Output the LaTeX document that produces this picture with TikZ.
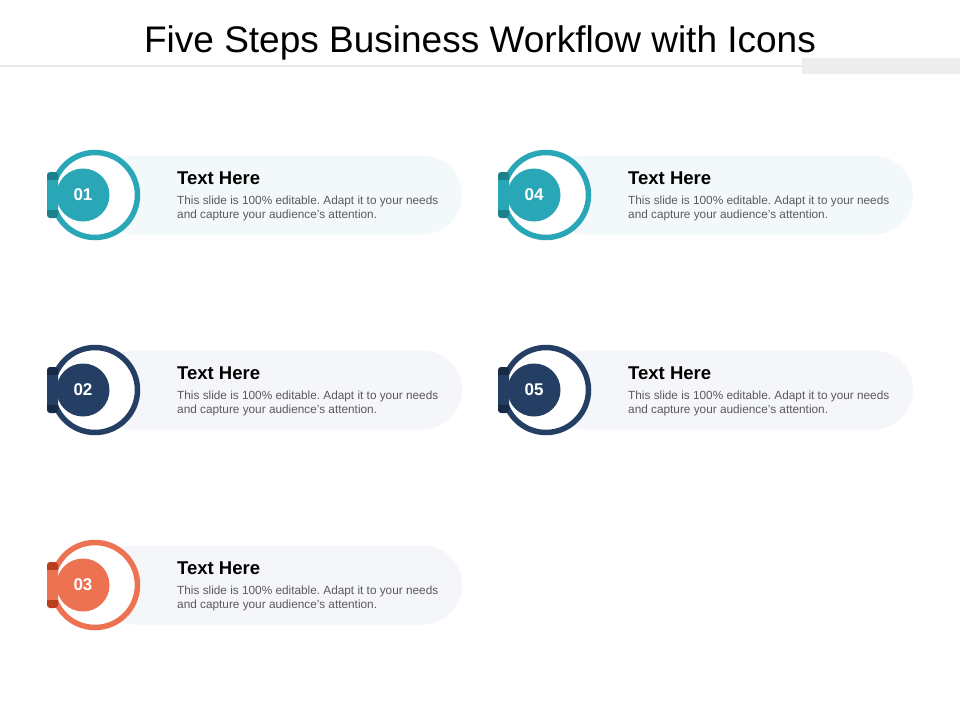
\documentclass[tikz,border=0pt]{standalone}
\usepackage{fontspec}
\setmainfont{Liberation Sans}
\frenchspacing
\definecolor{tealc}{HTML}{2AA7B7}
\definecolor{tealdk}{HTML}{1E7F8C}
\definecolor{navyc}{HTML}{243F63}
\definecolor{navydk}{HTML}{172A46}
\definecolor{orangec}{HTML}{EC7252}
\definecolor{orangedk}{HTML}{B9401F}
\definecolor{pillteal}{HTML}{F3F9FA}
\definecolor{pillgrey}{HTML}{F4F6F9}
\definecolor{bodygrey}{HTML}{5A5A5A}
\definecolor{rulegrey}{HTML}{E9E9E9}
\tikzset{
  numnode/.style={circle, inner sep=0pt, minimum size=53pt, text=white, font=\bfseries\fontsize{17}{17}\selectfont},
  headnode/.style={anchor=base west, inner sep=0pt, font=\bfseries\fontsize{18.5}{18.5}\selectfont},
  bodynode/.style={anchor=base west, inner sep=0pt, align=left, text=bodygrey, font=\fontsize{11.8}{14}\selectfont},
}
\newcommand{\stepunit}[7]{%
  \begin{scope}[shift={(#1,#2)}]
    \fill[#6, rounded corners=39.5pt] (0,-39.5) rectangle (367,39.5);
    \fill[white] (0,0) circle (45);
    \draw[#4, line width=5.5pt] (0,0) circle (42.5);
    \fill[#5, rounded corners=3pt] (-48,-23) rectangle (-37,23);
    \fill[#4] (-48,-15) rectangle (-37,15);
    \node[numnode, fill=#4] (num#7) at (-12,0) {#3};
    \node[headnode] (head#7) at (82,-11) {Text Here};
    \node[bodynode] (body#7) at (82,23) {This slide is 100\% editable. Adapt it to your needs\\and capture your audience's attention.};
  \end{scope}}
\begin{document}
\begin{tikzpicture}[x=1pt,y=-1pt]
\useasboundingbox (0,0) rectangle (960,720);
\fill[white] (0,0) rectangle (960,720);
\fill[rulegrey] (0,65) rectangle (802,67);
\fill[rulegrey!80] (802,58) rectangle (960,74);
\node[inner sep=0pt, anchor=base, font=\fontsize{37}{37}\selectfont] (title) at (480,52) {Five Steps Business Workflow with Icons};
\stepunit{95}{195}{01}{tealc}{tealdk}{pillteal}{a}
\stepunit{95}{390}{02}{navyc}{navydk}{pillgrey}{b}
\stepunit{95}{585}{03}{orangec}{orangedk}{pillgrey}{c}
\stepunit{546}{195}{04}{tealc}{tealdk}{pillteal}{d}
\stepunit{546}{390}{05}{navyc}{navydk}{pillgrey}{e}
\end{tikzpicture}
\end{document}
